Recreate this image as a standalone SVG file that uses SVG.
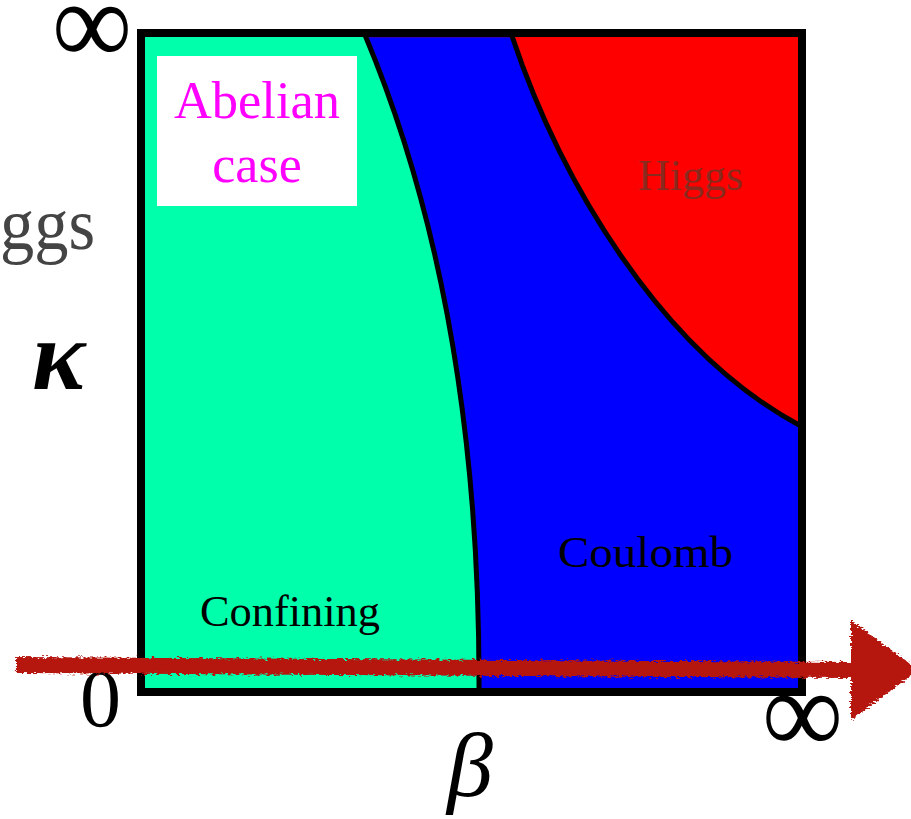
<svg xmlns="http://www.w3.org/2000/svg" width="911" height="819" viewBox="0 0 911 819">
  <defs>
    <style>
      .serif { font-family: "Liberation Serif", "DejaVu Serif", serif; }
      .lbl { font-family: "Liberation Serif", "DejaVu Serif", serif; fill: #000; }
      .bound { fill: none; stroke: #000; stroke-width: 5; }
    </style>
    <filter id="rough" x="-5%" y="-50%" width="110%" height="200%">
      <feTurbulence type="fractalNoise" baseFrequency="0.25 0.6" numOctaves="2" seed="3" result="n"/>
      <feDisplacementMap in="SourceGraphic" in2="n" scale="7" xChannelSelector="R" yChannelSelector="G"/>
    </filter>
  </defs>
  <rect width="911" height="819" fill="#fff"/>

  <g id="phase-diagram">
    <rect id="coulomb-region" x="141" y="33" width="661" height="659" fill="#0000ff"/>
    <path id="confining-region" d="M141,33 L365,33 L365,35 C430,190 480,400 479,690 L479,692 L141,692 Z" fill="#00ffaa"/>
    <path id="higgs-region" d="M512,33 L802,33 L802,425 L799,425 C660,350 560,180 512,36 Z" fill="#ff0000"/>
    <line x1="367" y1="36.5" x2="512" y2="36.5" stroke="#c00000" stroke-width="1.5"/>
    <path class="bound" d="M365,35 C430,190 480,400 479,690"/>
    <path class="bound" d="M512,36 C560,180 660,350 799,425"/>
    <rect x="141" y="33" width="661" height="659" fill="none" stroke="#000" stroke-width="8"/>
  </g>

  <g id="abelian-label">
    <rect x="157" y="56" width="200" height="150" fill="#fff"/>
    <text class="serif" x="257" y="118" font-size="52" fill="#ff00ff" text-anchor="middle" textLength="166" lengthAdjust="spacingAndGlyphs">Abelian</text>
    <text class="serif" x="257" y="182" font-size="52" fill="#ff00ff" text-anchor="middle">case</text>
  </g>

  <g id="higgs-label">
    <text class="serif" x="638" y="190" font-size="44" fill="#8a2a1e" textLength="105" lengthAdjust="spacingAndGlyphs">Higgs</text>
  </g>
  <g id="coulomb-label">
    <text class="lbl" x="558" y="567" font-size="45" textLength="175" lengthAdjust="spacingAndGlyphs">Coulomb</text>
  </g>
  <g id="confining-label">
    <text class="lbl" x="200" y="626" font-size="45" textLength="180" lengthAdjust="spacingAndGlyphs">Confining</text>
  </g>

  <g id="axis-labels">
    <text class="serif" x="0" y="249" font-size="75" fill="#444" textLength="95" lengthAdjust="spacingAndGlyphs">ggs</text>
    <text class="serif" x="32" y="389" font-size="100" font-style="italic" font-weight="bold">κ</text>
    <text class="serif" x="80" y="726" font-size="82">0</text>
    <text class="serif" x="52" y="64" font-size="120" textLength="80" lengthAdjust="spacingAndGlyphs">∞</text>
    <text class="serif" x="762" y="753" font-size="120" textLength="81" lengthAdjust="spacingAndGlyphs">∞</text>
    <text class="serif" x="447" y="796" font-size="92" font-style="italic">β</text>
  </g>

  <g id="connectors">
    <g filter="url(#rough)" fill="#b5140f" stroke="#b5140f">
      <path d="M16,665 L856,670" stroke-width="16" fill="none"/>
      <polygon points="853,624 915,670 853,716" stroke-width="4"/>
    </g>
  </g>
</svg>
